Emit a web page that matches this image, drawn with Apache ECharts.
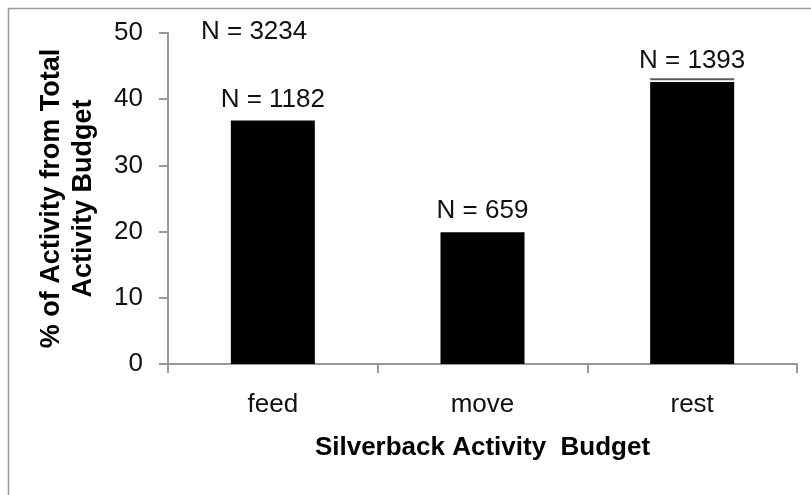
<!DOCTYPE html>
<html>
<head>
<meta charset="utf-8">
<script src="https://cdn.jsdelivr.net/npm/echarts@6/dist/echarts.min.js"></script>
<style>
  html, body { margin: 0; padding: 0; background: #fff; }
  #main { width: 811px; height: 495px; }
</style>
</head>
<body>
<div id="main"></div>
<script>
  // data
  const categories = ['feed', 'move', 'rest'];
  const percentValues = [36.8, 19.9, 42.6];
  const nCounts = [1182, 659, 1393];
  const capValues = ['-', '-', 43.0]; // thin line drawn just above the rest bar
  const totalN = 3234;
  const yTicks = [0, 10, 20, 30, 40, 50];

  const fontFam = '"Liberation Sans", Arial, sans-serif';

  let myChart = echarts.init(document.getElementById('main'), null, { renderer: 'canvas' });

  let option = {
    animation: false,
    backgroundColor: '#fff',
    textStyle: { fontFamily: fontFam },
    grid: {
      left: 168,
      right: 14,
      top: 33,
      bottom: 131
    },
    graphic: [
      {
        type: 'rect',
        left: 6,
        top: 6,
        shape: { width: 900, height: 600 },
        style: { fill: 'none', stroke: '#9a9a9a', lineWidth: 1.5 },
        silent: true
      },
      {
        type: 'text',
        left: 201,
        top: 19,
        style: {
          text: 'N = ' + totalN,
          font: '26px ' + fontFam,
          fill: '#111'
        }
      }
    ],
    xAxis: {
      type: 'category',
      data: categories,
      name: 'Silverback Activity  Budget',
      nameLocation: 'middle',
      nameGap: 71,
      nameTextStyle: {
        fontSize: 26,
        fontWeight: 'bold',
        color: '#000',
        fontFamily: fontFam
      },
      axisLine: { lineStyle: { color: '#999', width: 2 } },
      axisTick: { show: true, length: 9, lineStyle: { color: '#999', width: 2 } },
      axisLabel: { fontSize: 26, color: '#111', margin: 28 }
    },
    yAxis: {
      type: 'value',
      min: 0,
      max: 50,
      interval: 10,
      name: '% of Activity from Total\nActivity Budget',
      nameLocation: 'middle',
      nameGap: 68,
      nameTextStyle: {
        fontSize: 27,
        fontWeight: 'bold',
        color: '#000',
        lineHeight: 32,
        fontFamily: fontFam
      },
      splitLine: { show: false },
      axisLine: { show: true, lineStyle: { color: '#999', width: 2 } },
      axisTick: { show: true, length: 9, lineStyle: { color: '#999', width: 2 } },
      axisLabel: {
        fontSize: 26,
        color: '#111',
        margin: 25,
        formatter: v => yTicks.includes(v) ? String(v) : ''
      }
    },
    series: [
      {
        name: 'Activity',
        type: 'bar',
        barWidth: 84,
        data: percentValues,
        itemStyle: { color: '#000' },
        label: {
          show: true,
          position: 'top',
          distance: 8,
          fontSize: 26,
          color: '#111',
          formatter: p => 'N = ' + nCounts[p.dataIndex]
        }
      },
      {
        name: 'cap',
        type: 'scatter',
        data: capValues,
        symbol: 'rect',
        symbolSize: [84, 2],
        itemStyle: { color: '#333' },
        z: 3
      }
    ]
  };

  myChart.setOption(option);
</script>
</body>
</html>
